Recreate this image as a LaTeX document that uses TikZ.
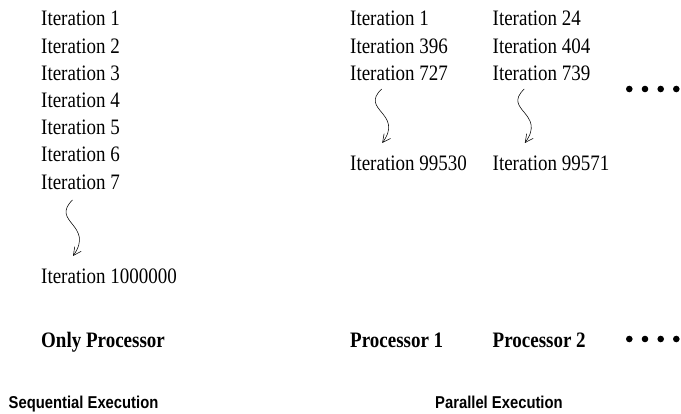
\documentclass[tikz,border=0pt]{standalone}
\usepackage{graphicx}
\usepackage{fontspec}
\setmainfont{Liberation Serif}
\newfontfamily\capsans{Liberation Sans}
\usetikzlibrary{arrows.meta}
\newcommand\vstretch[1]{\scalebox{1}[1.16]{#1}}
\tikzset{
  iter/.style={anchor=base west, inner sep=0pt, font=\fontsize{19}{21}\selectfont},
  proc/.style={anchor=base west, inner sep=0pt, font=\fontsize{19}{21}\selectfont\bfseries},
  caption/.style={anchor=base west, inner sep=0pt, font=\fontsize{14.8}{17}\selectfont\capsans\bfseries},
  squig/.style={line width=0.55pt, -{Straight Barb[length=8pt,width=8pt]}},
  dot/.style={circle, fill=black, inner sep=0pt, minimum size=6.6pt}
}
\begin{document}
\begin{tikzpicture}[x=1pt,y=-1pt]
\useasboundingbox (0,0) rectangle (681,414);
% left column
\node[iter] (l1) at (41,26) {\vstretch{Iteration 1}};
\node[iter] (l2) at (41,53.2) {\vstretch{Iteration 2}};
\node[iter] (l3) at (41,80.4) {\vstretch{Iteration 3}};
\node[iter] (l4) at (41,107.6) {\vstretch{Iteration 4}};
\node[iter] (l5) at (41,134.8) {\vstretch{Iteration 5}};
\node[iter] (l6) at (41,162) {\vstretch{Iteration 6}};
\node[iter] (l7) at (41,189.2) {\vstretch{Iteration 7}};
\node[iter] (ln) at (41,284) {\vstretch{Iteration 1000000}};
\coordinate (ls) at (72.5,200);
\coordinate (le) at (73,256);
\draw[squig] (ls) .. controls (50,222) and (95,225) .. (le);
% processor 1
\node[iter] (a1) at (350,26) {\vstretch{Iteration 1}};
\node[iter] (a2) at (350,53.2) {\vstretch{Iteration 396}};
\node[iter] (a3) at (350,80.4) {\vstretch{Iteration 727}};
\node[iter] (an) at (350,170.5) {\vstretch{Iteration 99530}};
\coordinate (as) at (381.7,89);
\coordinate (ae) at (382.2,143);
\draw[squig] (as) .. controls (359.2,110.2) and (404.2,113.1) .. (ae);
% processor 2
\node[iter] (b1) at (492.5,26) {\vstretch{Iteration 24}};
\node[iter] (b2) at (492.5,53.2) {\vstretch{Iteration 404}};
\node[iter] (b3) at (492.5,80.4) {\vstretch{Iteration 739}};
\node[iter] (bn) at (492.5,170.5) {\vstretch{Iteration 99571}};
\coordinate (bs) at (524.3,89);
\coordinate (be) at (524.8,143);
\draw[squig] (bs) .. controls (501.8,110.2) and (546.8,113.1) .. (be);
% dots
\foreach \i/\x in {1/629.3,2/645,3/660.7,4/676.3}{
  \node[dot] (td\i) at (\x,89) {};
  \node[dot] (bd\i) at (\x,339) {};
}
% processors
\node[proc] (p0) at (41,347.3) {\vstretch{Only Processor}};
\node[proc] (p1) at (350,347.3) {\vstretch{Processor 1}};
\node[proc] (p2) at (492.5,347.3) {\vstretch{Processor 2}};
% captions
\node[caption] (c1) at (8.5,408.3) {\vstretch{Sequential Execution}};
\node[caption] (c2) at (435,408.3) {\vstretch{Parallel Execution}};
\end{tikzpicture}
\end{document}
